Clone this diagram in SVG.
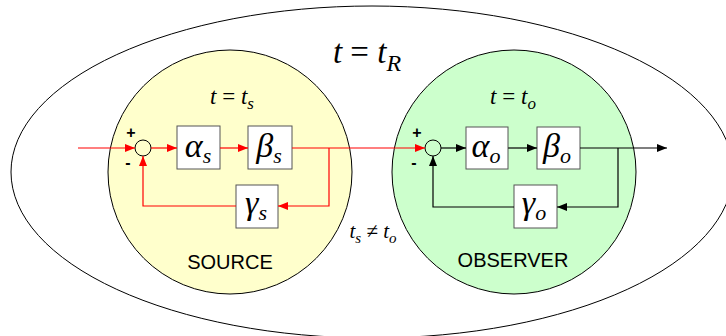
<svg xmlns="http://www.w3.org/2000/svg" width="726" height="336" viewBox="0 0 726 336">
<style>
.lab{font-family:'Liberation Sans',Arial,sans-serif;font-size:20px;fill:#000;text-anchor:middle}
.sg{font-family:'Liberation Sans',Arial,sans-serif;font-size:16px;font-weight:bold;fill:#000}
.box{fill:#fff;stroke:#555;stroke-width:1}
.sum{fill:none;stroke:#000;stroke-width:1}
.r{fill:none;stroke:#f00;stroke-width:1.2}
.k{fill:none;stroke:#000;stroke-width:1.2}
</style>
<defs>
<marker id="ar" markerUnits="userSpaceOnUse" markerWidth="11" markerHeight="9" refX="10" refY="4" orient="auto"><path d="M0,0 L10,4 L0,8 z" fill="#f00"/></marker>
<marker id="ak" markerUnits="userSpaceOnUse" markerWidth="11" markerHeight="9" refX="10" refY="4" orient="auto"><path d="M0,0 L10,4 L0,8 z" fill="#000"/></marker>
</defs>
<g id="outer">
<ellipse cx="372" cy="172" rx="361" ry="166" fill="#fff" stroke="#000" stroke-width="1"/>
<text font-family="Liberation Serif, Times New Roman, serif" x="367" y="63" text-anchor="middle" font-size="33"><tspan font-style="italic">t</tspan> = <tspan font-style="italic">t</tspan><tspan font-style="italic" font-size="24" dy="8">R</tspan></text>
</g>
<g id="source">
<circle cx="230" cy="172" r="122" fill="#ffffcc" stroke="#000" stroke-width="1"/>
<text font-family="Liberation Serif, Times New Roman, serif" x="232" y="104" text-anchor="middle" font-size="23"><tspan font-style="italic">t</tspan> = <tspan font-style="italic">t</tspan><tspan font-style="italic" font-size="17" dy="5">s</tspan></text>
<text class="lab" x="230" y="269">SOURCE</text>
</g>
<g id="observer">
<circle cx="514" cy="172" r="122" fill="#ccffcc" stroke="#000" stroke-width="1"/>
<text font-family="Liberation Serif, Times New Roman, serif" x="513" y="104" text-anchor="middle" font-size="23"><tspan font-style="italic">t</tspan> = <tspan font-style="italic">t</tspan><tspan font-style="italic" font-size="17" dy="5">o</tspan></text>
<text class="lab" x="513" y="267">OBSERVER</text>
</g>
<g id="neq">
<text font-family="Liberation Serif, Times New Roman, serif" x="373" y="238" text-anchor="middle" font-size="21"><tspan font-style="italic">t</tspan><tspan font-style="italic" font-size="15" dy="5">s</tspan><tspan dy="-5"> ≠ </tspan><tspan font-style="italic">t</tspan><tspan font-style="italic" font-size="15" dy="5">o</tspan></text>
</g>
<g id="sum_s">
<circle class="sum" cx="143" cy="148" r="8"/>
<text class="sg" x="131" y="138" text-anchor="middle">+</text>
<text class="sg" x="128" y="168" text-anchor="middle">-</text>
</g>
<g id="alpha_s">
<rect class="box" x="177" y="126" width="43" height="43"/>
<text font-family="Liberation Serif, Times New Roman, serif" font-style="italic" x="198" y="157" text-anchor="middle" font-size="34">α<tspan font-size="22" dy="6">s</tspan></text>
</g>
<g id="beta_s">
<rect class="box" x="248" y="126" width="44" height="43"/>
<text font-family="Liberation Serif, Times New Roman, serif" font-style="italic" x="269" y="157" text-anchor="middle" font-size="34">β<tspan font-size="22" dy="6">s</tspan></text>
</g>
<g id="gamma_s">
<rect class="box" x="236" y="185" width="42" height="43"/>
<text font-family="Liberation Serif, Times New Roman, serif" font-style="italic" x="256" y="214" text-anchor="middle" font-size="34">γ<tspan font-size="22" dy="6">s</tspan></text>
</g>
<g id="sum_o">
<circle class="sum" cx="433" cy="148" r="8"/>
<text class="sg" x="417" y="138" text-anchor="middle">+</text>
<text class="sg" x="414" y="168" text-anchor="middle">-</text>
</g>
<g id="alpha_o">
<rect class="box" x="466" y="127" width="42" height="42"/>
<text font-family="Liberation Serif, Times New Roman, serif" font-style="italic" x="486" y="157" text-anchor="middle" font-size="34">α<tspan font-size="22" dy="6">o</tspan></text>
</g>
<g id="beta_o">
<rect class="box" x="537" y="127" width="43" height="42"/>
<text font-family="Liberation Serif, Times New Roman, serif" font-style="italic" x="557" y="157" text-anchor="middle" font-size="34">β<tspan font-size="22" dy="6">o</tspan></text>
</g>
<g id="gamma_o">
<rect class="box" x="514" y="185" width="43" height="43"/>
<text font-family="Liberation Serif, Times New Roman, serif" font-style="italic" x="534" y="214" text-anchor="middle" font-size="34">γ<tspan font-size="22" dy="6">o</tspan></text>
</g>
<g id="connectors">
<path class="r" d="M78,148 H135" marker-end="url(#ar)"/>
<path class="r" d="M151,148 H177" marker-end="url(#ar)"/>
<path class="r" d="M220,148 H248" marker-end="url(#ar)"/>
<path class="r" d="M292,148 H425" marker-end="url(#ar)"/>
<path class="r" d="M329,148 V206 H278" marker-end="url(#ar)"/>
<path class="r" d="M236,206 H143 V156" marker-end="url(#ar)"/>
<path class="k" d="M441,148 H466" marker-end="url(#ak)"/>
<path class="k" d="M508,148 H537" marker-end="url(#ak)"/>
<path class="k" d="M580,148 H667" marker-end="url(#ak)"/>
<path class="k" d="M618,148 V207 H557" marker-end="url(#ak)"/>
<path class="k" d="M514,207 H433 V156" marker-end="url(#ak)"/>
</g>
</svg>
